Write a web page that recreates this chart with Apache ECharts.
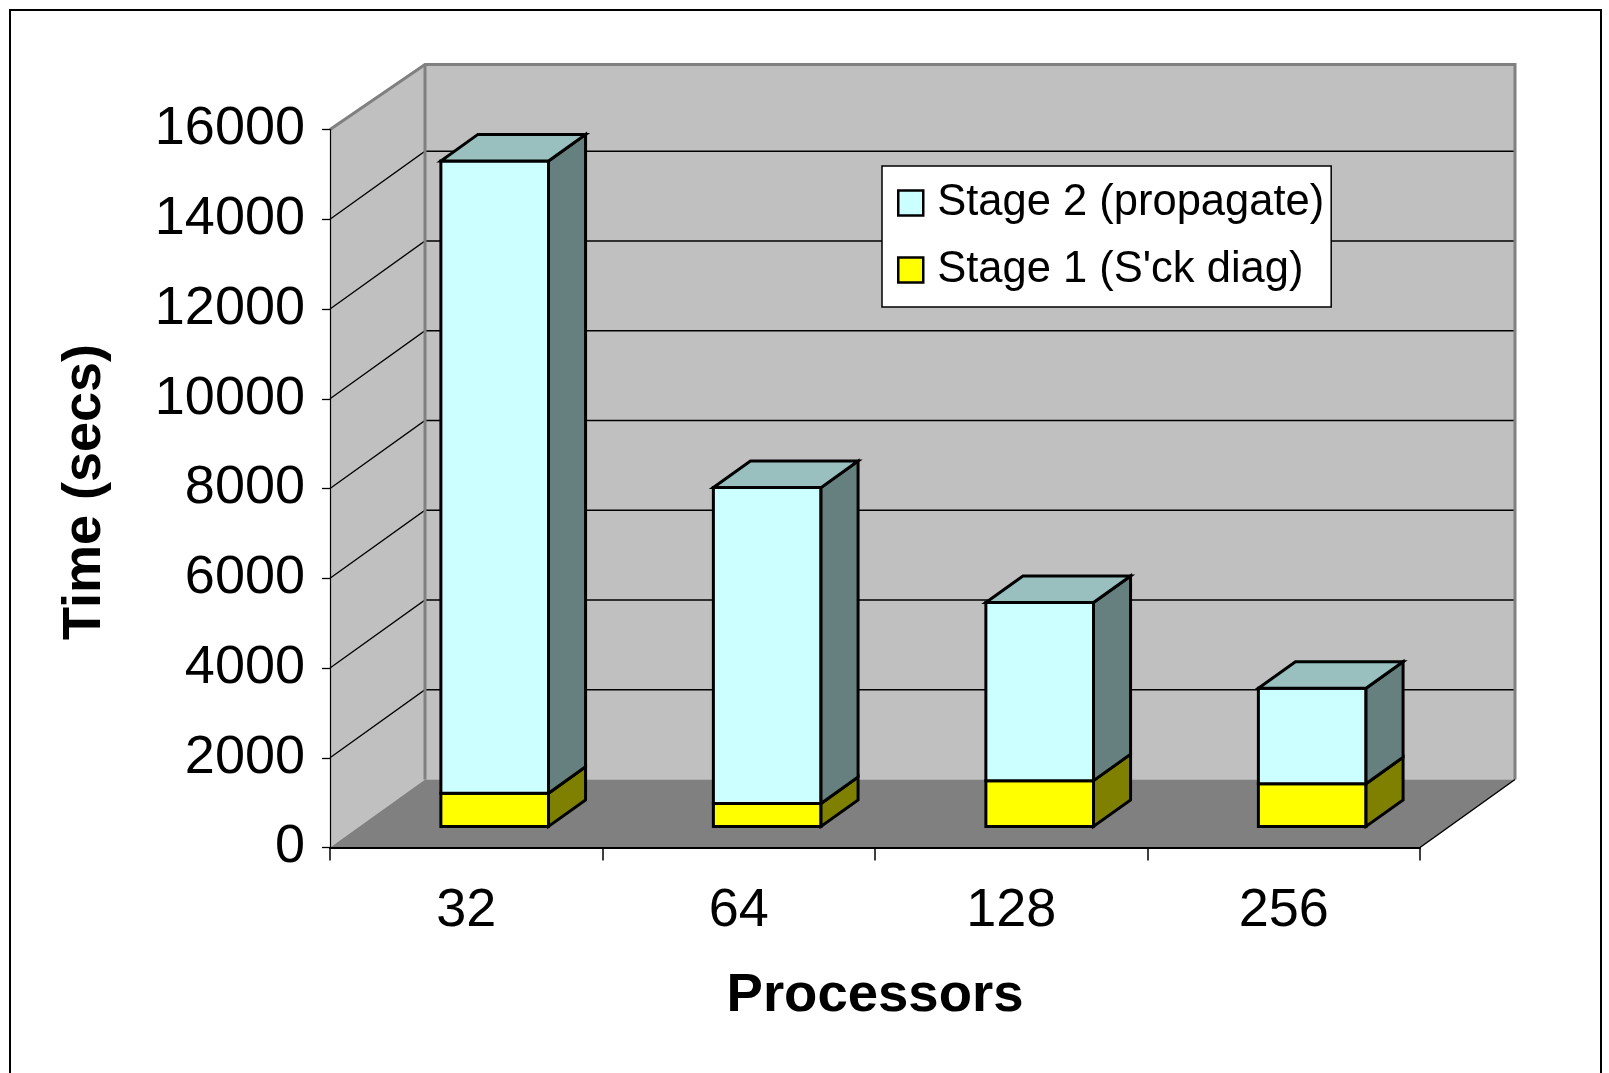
<!DOCTYPE html>
<html>
<head>
<meta charset="utf-8">
<title>Time by processors</title>
<script src="https://cdn.jsdelivr.net/npm/echarts@6/dist/echarts.min.js"></script>
<style>
  html, body { margin: 0; padding: 0; background: #fff; }
  #chart { width: 1609px; height: 1073px; }
</style>
</head>
<body>
<div id="chart"></div>
<script>
// ---- data ----
const categories = ['32', '64', '128', '256'];
const stage1 = [740, 510, 1020, 950];        // Stage 1 (S'ck diag)
const stage2 = [14090, 7040, 3970, 2130];    // Stage 2 (propagate)
const yMax = 16000;
const yStep = 2000;

// ---- 3D look ----
const DEPTH_X = 95;      // horizontal shift from front plane to back wall (px)
const DEPTH_Y = -68;     // vertical shift from front plane to back wall (px)
const FRONT = 0.31;      // depth fraction of bar front faces
const BACK = 0.70;       // depth fraction of bar back faces
const BAR_WIDTH = 0.395; // bar width as a share of the category band
const FONT = '"Liberation Sans", Arial, sans-serif';

const NAME_S2 = 'Stage 2 (propagate)';
const NAME_S1 = "Stage 1 (S'ck diag)";

const palette = {
  s1: { front: '#FFFF00', side: '#808000', top: '#BFBF00' },
  s2: { front: '#CCFFFF', side: '#668080', top: '#99BFBF' }
};

function renderWalls(params, api) {
  const cs = params.coordSys;
  const xL = cs.x, xR = cs.x + cs.width;
  const y0 = api.coord([0, 0])[1];
  const yTop = api.coord([0, yMax])[1];
  const dx = DEPTH_X, dy = DEPTH_Y;
  const topDy = dy + 3; // the wall rim sits a touch lower than the back plane
  const children = [];
  // left wall
  children.push({ type: 'polygon', shape: { points: [[xL, yTop], [xL + dx, yTop + topDy], [xL + dx, y0 + dy], [xL, y0]] },
    style: { fill: '#C0C0C0' } });
  // back wall
  children.push({ type: 'rect', shape: { x: xL + dx, y: yTop + topDy, width: xR - xL, height: y0 + dy - (yTop + topDy) },
    style: { fill: '#C0C0C0' } });
  // floor
  children.push({ type: 'polygon', shape: { points: [[xL, y0], [xR, y0], [xR + dx, y0 + dy], [xL + dx, y0 + dy]] },
    style: { fill: '#808080' } });
  // gridlines across left wall and back wall
  for (let v = yStep; v < yMax; v += yStep) {
    const y = api.coord([0, v])[1];
    children.push({ type: 'polyline', shape: { points: [[xL, y], [xL + dx, y + dy], [xR + dx, y + dy]] },
      style: { stroke: '#000', lineWidth: 1.3, fill: null } });
  }
  // wall edges
  children.push({ type: 'polyline', shape: { points: [[xL, yTop], [xL + dx, yTop + topDy], [xR + dx, yTop + topDy], [xR + dx, y0 + dy]] },
    style: { stroke: '#808080', lineWidth: 3, fill: null } });
  children.push({ type: 'line', shape: { x1: xL + dx, y1: yTop + topDy, x2: xL + dx, y2: y0 + dy },
    style: { stroke: '#808080', lineWidth: 3 } });
  // floor right edge
  children.push({ type: 'line', shape: { x1: xR, y1: y0, x2: xR + dx, y2: y0 + dy },
    style: { stroke: '#000', lineWidth: 1.5 } });
  return { type: 'group', children: children };
}

function makeBarRenderer(colors, withTop) {
  return function (params, api) {
    const i = api.value(0), lo = api.value(1), hi = api.value(2);
    const pLo = api.coord([i, lo]);
    const pHi = api.coord([i, hi]);
    const w = api.size([1, 0])[0] * BAR_WIDTH;
    const fx = DEPTH_X * FRONT, fy = DEPTH_Y * FRONT;
    const ddx = DEPTH_X * (BACK - FRONT), ddy = DEPTH_Y * (BACK - FRONT);
    const x0 = pLo[0] - w / 2 + fx - 1, x1 = pLo[0] + w / 2 + fx - 1;
    const yb = pLo[1] + fy, yt = pHi[1] + fy;
    const edge = { stroke: '#000', lineWidth: 3, lineJoin: 'miter' };
    const children = [
      { type: 'polygon', shape: { points: [[x0, yb], [x1, yb], [x1, yt], [x0, yt]] },
        style: Object.assign({ fill: colors.front }, edge) },
      { type: 'polygon', shape: { points: [[x1, yb], [x1, yt], [x1 + ddx, yt + ddy], [x1 + ddx, yb + ddy]] },
        style: Object.assign({ fill: colors.side }, edge) }
    ];
    if (withTop) {
      children.push({ type: 'polygon', shape: { points: [[x0, yt], [x1, yt], [x1 + ddx, yt + ddy], [x0 + ddx, yt + ddy]] },
        style: Object.assign({ fill: colors.top }, edge) });
    }
    return { type: 'group', children: children };
  };
}

const s1Data = categories.map((c, i) => [i, 0, stage1[i]]);
const s2Data = categories.map((c, i) => [i, stage1[i], stage1[i] + stage2[i]]);

const chart = echarts.init(document.getElementById('chart'), null, { renderer: 'canvas' });
chart.setOption({
  animation: false,
  backgroundColor: '#fff',
  textStyle: { fontFamily: FONT },
  grid: { left: 330, right: 189, top: 129.5, bottom: 225.5, containLabel: false },
  xAxis: {
    type: 'category',
    data: categories,
    boundaryGap: true,
    z: 5,
    axisLine: { show: true, lineStyle: { color: '#000', width: 2 } },
    axisTick: { show: true, length: 13, lineStyle: { color: '#000', width: 1.5 } },
    axisLabel: { fontSize: 54, fontFamily: FONT, color: '#000', margin: 37 },
    splitLine: { show: false }
  },
  yAxis: {
    type: 'value',
    min: 0,
    max: yMax,
    interval: yStep,
    z: 5,
    axisLine: { show: true, lineStyle: { color: '#000', width: 1.2 } },
    axisTick: { show: true, length: 8, lineStyle: { color: '#000', width: 1.3 } },
    axisLabel: { fontSize: 54, fontFamily: FONT, color: '#000', margin: 25, lineHeight: 54, padding: [12, 0, 0, 0],
      formatter: v => String(v) },
    splitLine: { show: false }
  },
  legend: {
    orient: 'vertical',
    left: 882,
    top: 166,
    backgroundColor: '#fff',
    borderColor: '#000',
    borderWidth: 1.5,
    padding: [15, 7, 15, 15],
    itemGap: 23,
    itemWidth: 25,
    itemHeight: 25,
    icon: 'rect',
    selectedMode: false,
    textStyle: { fontSize: 43.5, fontFamily: FONT, color: '#000', lineHeight: 44, padding: [0, 0, 0, 9] },
    data: [
      { name: NAME_S2, itemStyle: { color: palette.s2.front, borderColor: '#000', borderWidth: 2.5 } },
      { name: NAME_S1, itemStyle: { color: palette.s1.front, borderColor: '#000', borderWidth: 2.5 } }
    ]
  },
  graphic: [
    { type: 'rect', z: 0, shape: { x: 10, y: 10, width: 1591, height: 1080 },
      style: { fill: null, stroke: '#000', lineWidth: 2 }, silent: true },
    { type: 'text', x: 85, y: 492, rotation: Math.PI / 2, z: 10,
      style: { text: 'Time (secs)', font: 'bold 54px ' + FONT, fill: '#000', textAlign: 'center', textVerticalAlign: 'middle' } },
    { type: 'text', x: 875, y: 996, z: 10,
      style: { text: 'Processors', font: 'bold 54.5px ' + FONT, fill: '#000', textAlign: 'center', textVerticalAlign: 'middle' } }
  ],
  series: [
    { name: 'walls', type: 'custom', z: 1, silent: true, clip: false,
      renderItem: renderWalls, data: [[0, 0]] },
    { name: NAME_S1, type: 'custom', z: 2, silent: true, clip: false,
      itemStyle: { color: palette.s1.front },
      renderItem: makeBarRenderer(palette.s1, false), data: s1Data },
    { name: NAME_S2, type: 'custom', z: 3, silent: true, clip: false,
      itemStyle: { color: palette.s2.front },
      renderItem: makeBarRenderer(palette.s2, true), data: s2Data }
  ]
});
</script>
</body>
</html>
